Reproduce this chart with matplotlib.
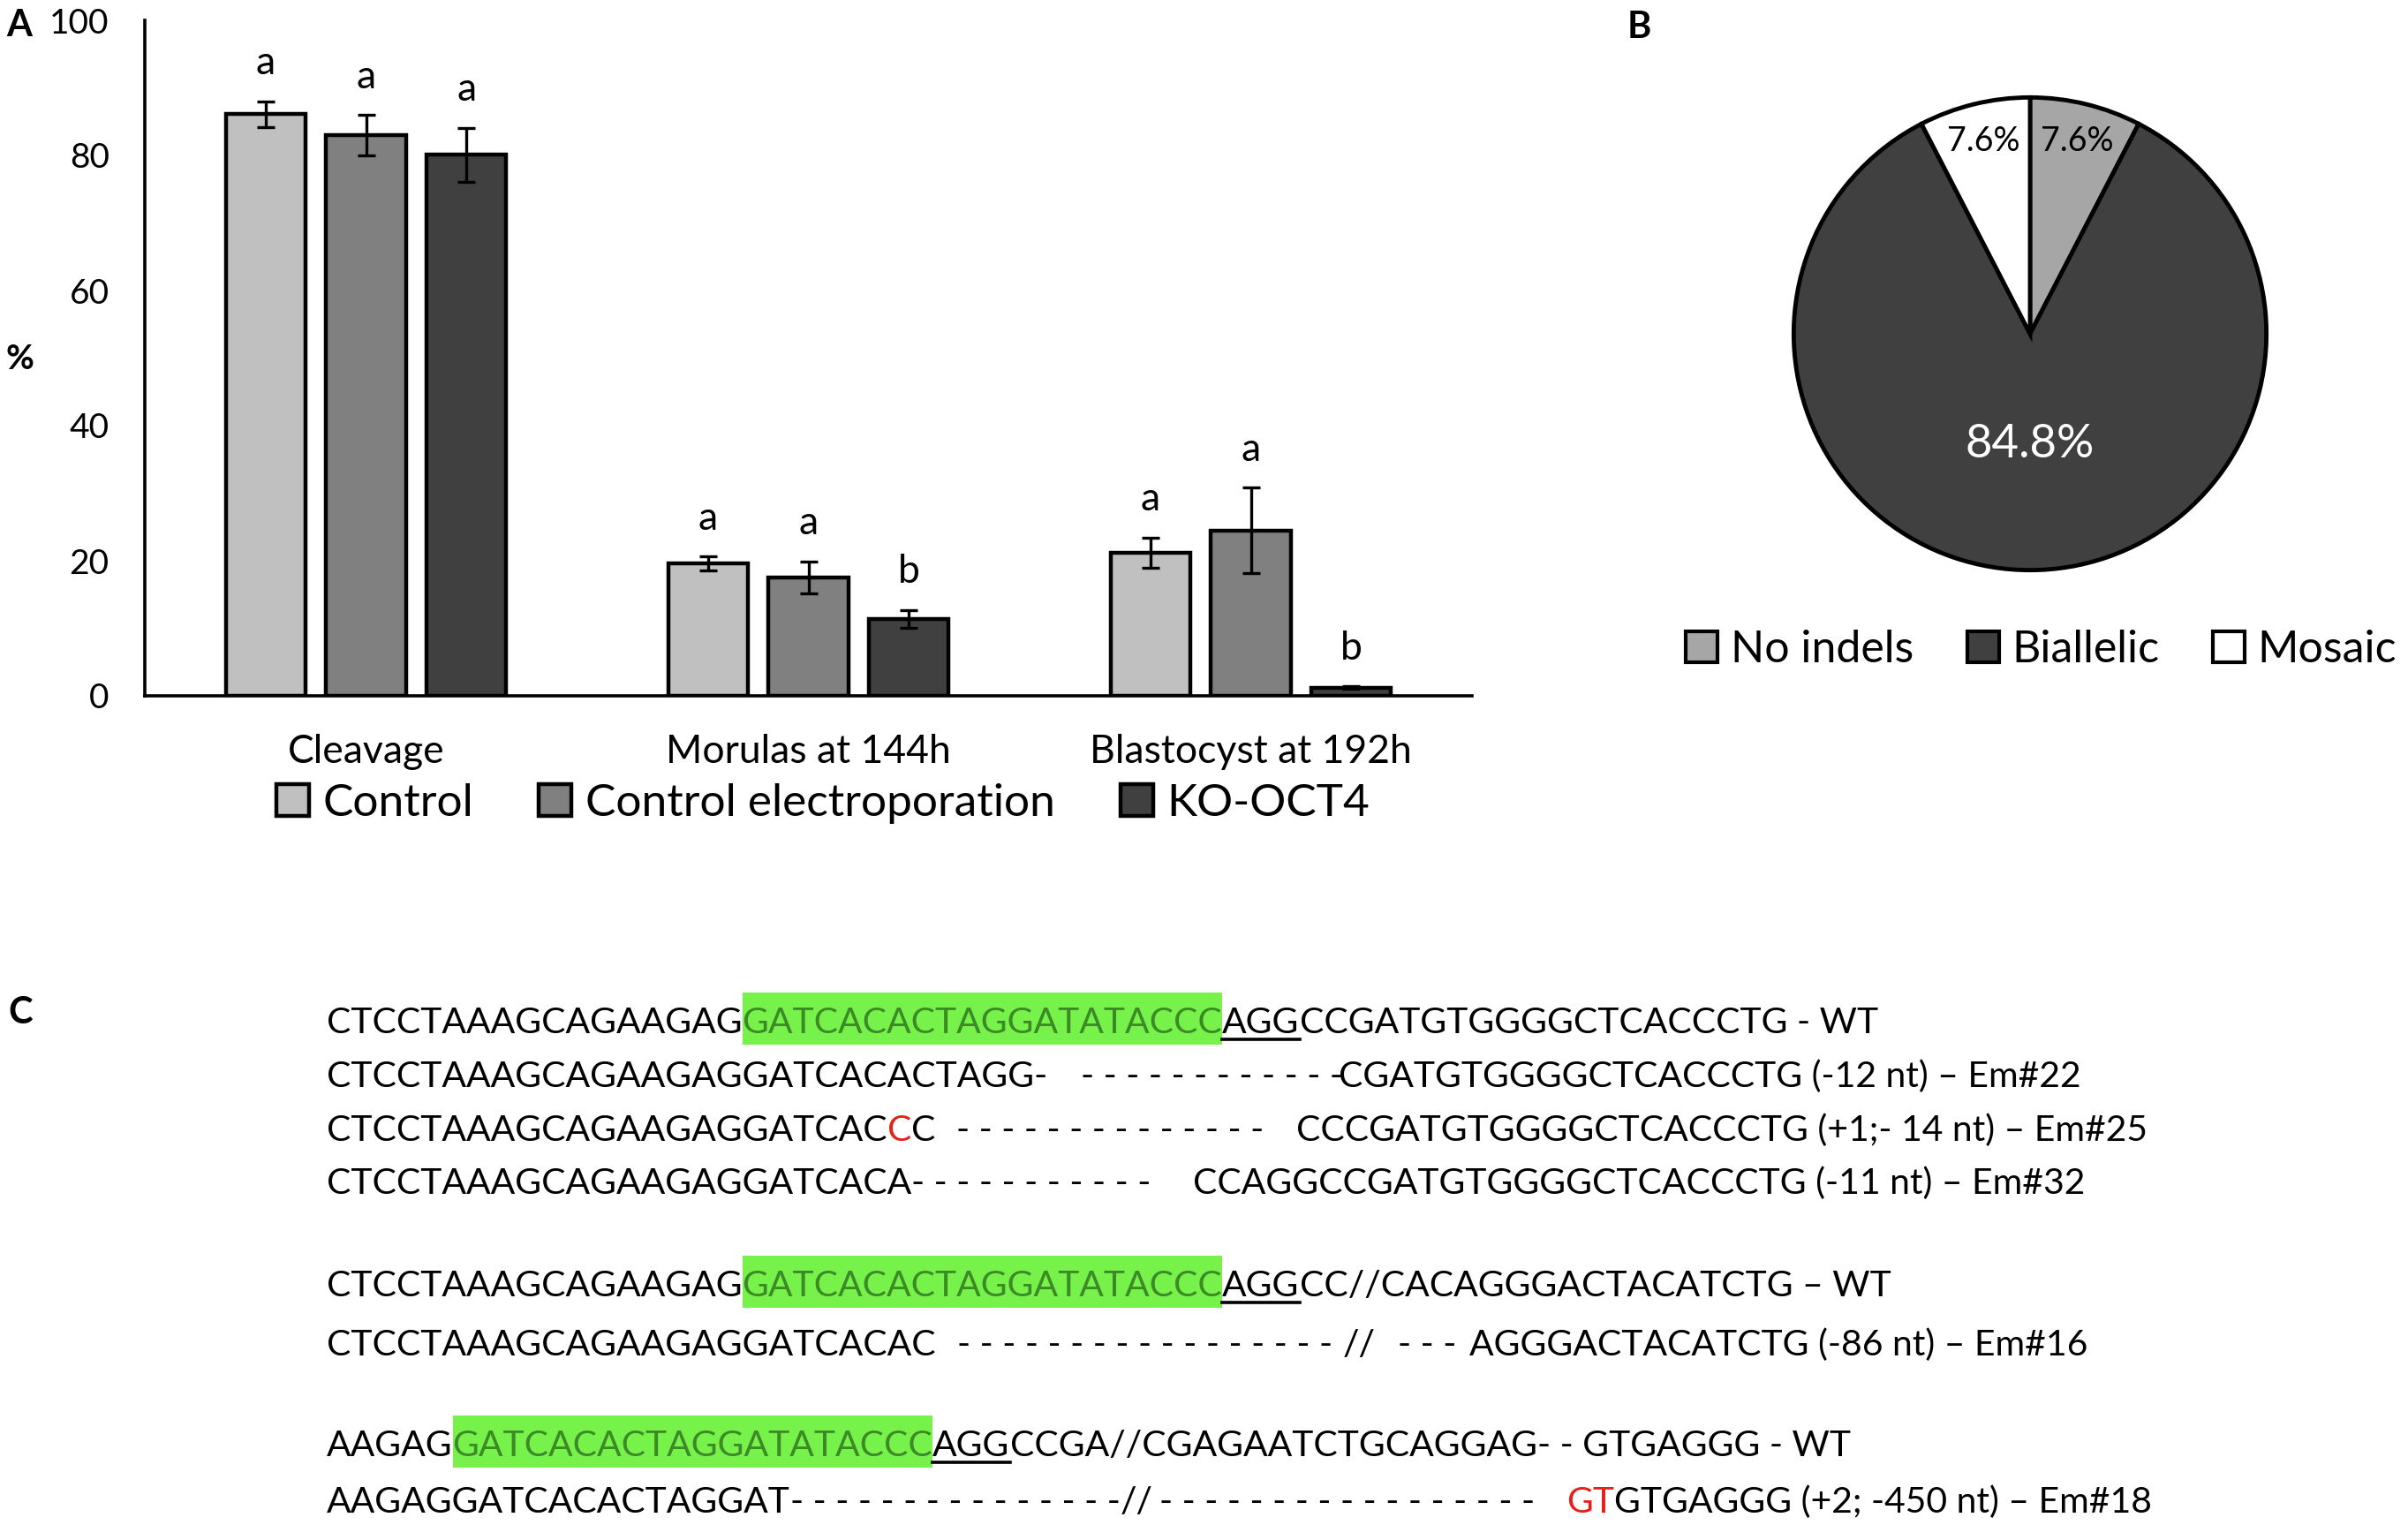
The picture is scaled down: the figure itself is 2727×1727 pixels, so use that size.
import numpy as np
import matplotlib
matplotlib.use("Agg")
import matplotlib.pyplot as plt
from matplotlib.patches import Rectangle, Patch
from matplotlib.lines import Line2D

plt.rcParams['font.family'] = ['Lato', 'DejaVu Sans']

# ---------------- data ----------------
categories = ["Cleavage", "Morulas at 144h", "Blastocyst at 192h"]
groups = ["Control", "Control electroporation", "KO-OCT4"]
control = [86.1, 19.6, 21.2]
control_err = [1.9, 1.0, 2.2]
electro = [83.0, 17.5, 24.5]
electro_err = [3.0, 2.4, 6.3]
ko_oct4 = [80.1, 11.4, 1.2]
ko_oct4_err = [4.0, 1.3, 0.2]
letters_control = ["a", "a", "a"]
letters_electro = ["a", "a", "a"]
letters_ko = ["a", "b", "b"]
yticks = [0, 20, 40, 60, 80, 100]

pie_labels = ["No indels", "Biallelic", "Mosaic"]
pie_values = [7.6, 84.8, 7.6]

seq_rows = [
    [("CTCCTAAAGCAGAAGAG", "n"), ("GATCACACTAGGATATACCC", "hl"), ("AGG", "ul"),
     ("CCGATGTGGGGCTCACCCTG - WT", "n")],
    [("CTCCTAAAGCAGAAGAGGATCACACTAGG-", "n"), ("- - - - - - - - - - - -", "n"),
     ("CGATGTGGGGCTCACCCTG (-12 nt) \u2013 Em#22", "n")],
    [("CTCCTAAAGCAGAAGAGGATCAC", "n"), ("C", "red"), ("C", "n"),
     ("- - - - - - - - - - - - - -", "n"),
     ("CCCGATGTGGGGCTCACCCTG (+1;- 14 nt) \u2013 Em#25", "n")],
    [("CTCCTAAAGCAGAAGAGGATCACA", "n"), ("- - - - - - - - - - -", "n"),
     ("CCAGGCCGATGTGGGGCTCACCCTG (-11 nt) \u2013 Em#32", "n")],
    [("CTCCTAAAGCAGAAGAG", "n"), ("GATCACACTAGGATATACCC", "hl"), ("AGG", "ul"),
     ("CC//CACAGGGACTACATCTG \u2013 WT", "n")],
    [("CTCCTAAAGCAGAAGAGGATCACAC", "n"), ("- - - - - - - - - - - - - - - - -", "n"),
     ("//", "n"), ("- - -", "n"), ("AGGGACTACATCTG (-86 nt) \u2013 Em#16", "n")],
    [("AAGAG", "n"), ("GATCACACTAGGATATACCC", "hl"), ("AGG", "ul"),
     ("CCGA//CGAGAATCTGCAGGAG- - GTGAGGG - WT", "n")],
    [("AAGAGGATCACACTAGGAT", "n"), ("- - - - - - - - - - - - - - -", "n"), ("//", "n"),
     ("- - - - - - - - - - - - - - - - -", "n"), ("GT", "red"),
     ("GTGAGGG (+2; -450 nt) \u2013 Em#18", "n")],
]

# ---------------- layout / style ----------------
W, H = 2727, 1727
bar_colors = ["#C0C0C0", "#808080", "#404040"]
pie_colors = ["#A6A6A6", "#404040", "#FFFFFF"]
seq_colors = {"n": "black", "hl": "#3B8A26", "ul": "black", "red": "#E3221B"}
hl_face = "#76F24B"
seq_x = [
    [370, None, None, None],
    [370, 1224, 1516],
    [370, None, None, 1083, 1468],
    [370, None, 1351],
    [370, None, None, None],
    [370, 1084, 1521, 1583, 1664],
    [370, None, None, None],
    [370, None, None, 1313, 1774, None],
]
seq_base = [1170, 1231, 1292, 1352, 1468, 1535, 1649, 1713]


def fx(px):
    return px / W


def fy(py):
    return 1 - py / H


fig = plt.figure(figsize=(W / 100, H / 100), dpi=100)
fig.patch.set_facecolor("white")

# ---------------- panel A: bars ----------------
ax = fig.add_axes([fx(164), fy(788), (1667 - 164) / W, (788 - 23) / H])
x = np.arange(len(categories))
width = 0.18
offset = 0.227
series = [(control, control_err, letters_control),
          (electro, electro_err, letters_electro),
          (ko_oct4, ko_oct4_err, letters_ko)]
for i, (vals, errs, lets) in enumerate(series):
    xs = x + (i - 1) * offset
    ax.bar(xs, vals, width, color=bar_colors[i], edgecolor="black", linewidth=3.2,
           yerr=errs, label=groups[i], zorder=2,
           error_kw=dict(ecolor="black", elinewidth=2.4, capsize=7, capthick=2.4, zorder=3))
    for xi, v, e, l in zip(xs, vals, errs, lets):
        ax.text(xi, v + e + 4.0, l, ha="center", va="baseline", fontsize=32)

ax.set_xlim(-0.5, 2.5)
ax.set_ylim(0, 100)
ax.set_yticks(yticks)
ax.set_xticks(x)
ax.set_xticklabels(categories)
ax.tick_params(axis="y", length=0, labelsize=28, pad=29)
ax.tick_params(axis="x", length=0, labelsize=32, pad=31)
for s in ["top", "right"]:
    ax.spines[s].set_visible(False)
for s in ["left", "bottom"]:
    ax.spines[s].set_linewidth(2.6)
ax.patch.set_alpha(0)

ax.legend(loc="center", bbox_to_anchor=(fx(932), fy(910)), bbox_transform=fig.transFigure,
          ncol=3, frameon=False, fontsize=37, handlelength=0.72, handleheight=0.72,
          handletextpad=0.3, columnspacing=1.45, borderpad=0, borderaxespad=0)

fig.text(fx(7), fy(10), "A", fontsize=30, fontweight="bold", va="top", ha="left")
fig.text(fx(7), fy(407), "%", fontsize=28, fontweight="bold", va="center", ha="left")

# ---------------- panel B: pie ----------------
cx, cy, r = 2299, 378, 273
pax = fig.add_axes([fx(cx - r), fy(cy + r), 2 * r / W, 2 * r / H])
wedges, texts, autotexts = pax.pie(
    pie_values, colors=pie_colors, startangle=90, counterclock=False,
    autopct="%1.1f%%", pctdistance=0.84,
    wedgeprops=dict(edgecolor="black", linewidth=3.5),
    textprops=dict(fontsize=27))
pax.set_xlim(-1.02, 1.02)
pax.set_ylim(-1.02, 1.02)
pax.set_aspect("auto")
pax.axis("off")
big = autotexts[1]
px_, py_ = big.get_position()
big.set_position((px_ * 0.47 / 0.84, py_ * 0.47 / 0.84))
big.set_color("white")
big.set_fontsize(38)

handles = [Patch(facecolor=c, edgecolor="black", linewidth=3) for c in pie_colors]
fig.legend(handles, pie_labels, loc="center right", bbox_to_anchor=(fx(2714), fy(736)),
           ncol=3, frameon=False, fontsize=36, handlelength=0.72, handleheight=0.72,
           handletextpad=0.3, columnspacing=1.2, borderpad=0, borderaxespad=0)

fig.text(fx(1843), fy(12), "B", fontsize=30, fontweight="bold", va="top", ha="left")

# ---------------- panel C: sequences ----------------
fig.text(fx(9), fy(1128), "C", fontsize=30, fontweight="bold", va="top", ha="left")

renderer = fig.canvas.get_renderer()
probe = fig.text(0, 0, "CTCCTAAAGCAGAAGAG", fontsize=30)
pw = probe.get_window_extent(renderer).width
seq_fs = 30 * 478.0 / pw * 0.985
probe.remove()

for row, xs_row, base in zip(seq_rows, seq_x, seq_base):
    cur = None
    for (txt, style), xp in zip(row, xs_row):
        if xp is not None:
            cur = xp
        t = fig.text(fx(cur), fy(base), txt, fontsize=seq_fs, color=seq_colors[style],
                     va="baseline", ha="left", zorder=3)
        bb = t.get_window_extent(renderer)
        x0, x1 = bb.x0, bb.x1
        if style == "hl":
            fig.add_artist(Rectangle((fx(x0), fy(base + 13)), (x1 - x0) / W, 59 / H,
                                     transform=fig.transFigure, facecolor=hl_face,
                                     edgecolor="none", zorder=1))
        if style == "ul":
            fig.add_artist(Line2D([fx(x0), fx(x1)], [fy(base + 7), fy(base + 7)],
                                  transform=fig.transFigure, color="black", linewidth=2.6))
        cur = x1

fig.savefig("out.png", dpi=100, facecolor="white")
